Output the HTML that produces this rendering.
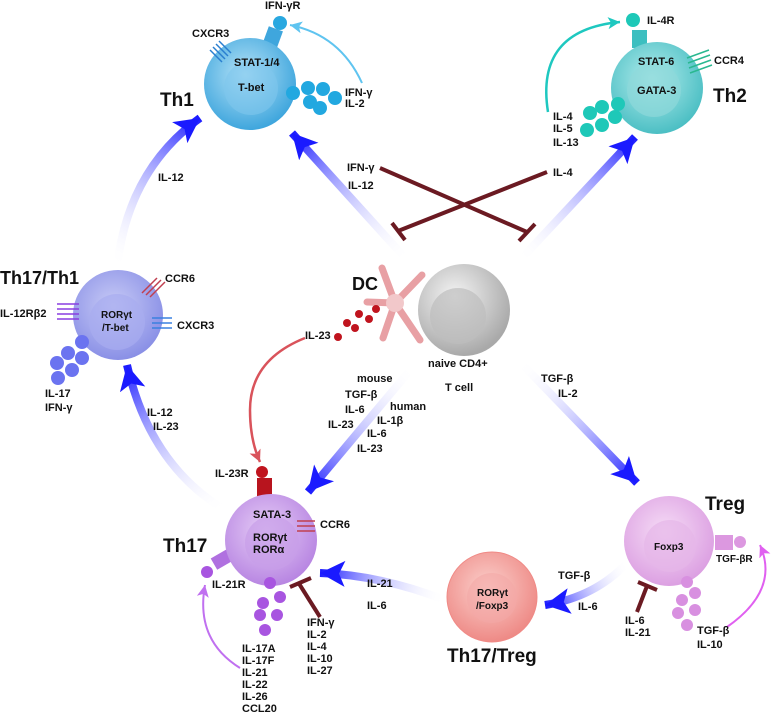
<!DOCTYPE html>
<html><head><meta charset="utf-8"><style>
html,body{margin:0;padding:0;background:#fff;}
svg{display:block;}
text{font-family:"Liberation Sans",sans-serif;font-weight:bold;fill:#111;}
.s{font-size:11px;}
.b{font-size:19px;}
</style></head><body>
<svg width="774" height="714" viewBox="0 0 774 714" xmlns="http://www.w3.org/2000/svg">
<defs>
<marker id="ah" markerUnits="userSpaceOnUse" markerWidth="30" markerHeight="30" refX="25" refY="13" orient="auto">
<path d="M0,0 L25,13 L0,26 L6,13 Z" fill="#1a1aff"/></marker>
<marker id="rh" markerUnits="userSpaceOnUse" markerWidth="16" markerHeight="16" refX="12" refY="6" orient="auto">
<path d="M0,0 L12,6 L0,12 L3,6 Z" fill="#d9535b"/></marker>
<marker id="ch" markerUnits="userSpaceOnUse" markerWidth="16" markerHeight="16" refX="12" refY="6" orient="auto">
<path d="M0,0 L12,6 L0,12 L3,6 Z" fill="#1ec8c0"/></marker>
<marker id="bh" markerUnits="userSpaceOnUse" markerWidth="16" markerHeight="16" refX="12" refY="6" orient="auto">
<path d="M0,0 L12,6 L0,12 L3,6 Z" fill="#5fc4f0"/></marker>
<marker id="ph" markerUnits="userSpaceOnUse" markerWidth="16" markerHeight="16" refX="12" refY="6" orient="auto">
<path d="M0,0 L12,6 L0,12 L3,6 Z" fill="#c070f0"/></marker>
<marker id="mh" markerUnits="userSpaceOnUse" markerWidth="16" markerHeight="16" refX="12" refY="6" orient="auto">
<path d="M0,0 L12,6 L0,12 L3,6 Z" fill="#e060f0"/></marker>
<linearGradient id="g1" gradientUnits="userSpaceOnUse" x1="407" y1="260" x2="292" y2="133"><stop offset="0" stop-color="#fff" stop-opacity="0"/><stop offset="1" stop-color="#1a1aff"/></linearGradient>
<linearGradient id="g2" gradientUnits="userSpaceOnUse" x1="520" y1="260" x2="635" y2="137"><stop offset="0" stop-color="#fff" stop-opacity="0"/><stop offset="1" stop-color="#1a1aff"/></linearGradient>
<linearGradient id="g3" gradientUnits="userSpaceOnUse" x1="117" y1="267" x2="200" y2="118"><stop offset="0" stop-color="#fff" stop-opacity="0"/><stop offset="1" stop-color="#1a1aff"/></linearGradient>
<linearGradient id="g4" gradientUnits="userSpaceOnUse" x1="225" y1="510" x2="127" y2="365"><stop offset="0" stop-color="#fff" stop-opacity="0"/><stop offset="1" stop-color="#1a1aff"/></linearGradient>
<linearGradient id="g5" gradientUnits="userSpaceOnUse" x1="412" y1="368" x2="308" y2="492"><stop offset="0" stop-color="#fff" stop-opacity="0"/><stop offset="1" stop-color="#1a1aff"/></linearGradient>
<linearGradient id="g6" gradientUnits="userSpaceOnUse" x1="520" y1="362" x2="637" y2="483"><stop offset="0" stop-color="#fff" stop-opacity="0"/><stop offset="1" stop-color="#1a1aff"/></linearGradient>
<linearGradient id="g7" gradientUnits="userSpaceOnUse" x1="445" y1="600" x2="320" y2="573"><stop offset="0" stop-color="#fff" stop-opacity="0"/><stop offset="1" stop-color="#1a1aff"/></linearGradient>
<linearGradient id="g8" gradientUnits="userSpaceOnUse" x1="627" y1="563" x2="545" y2="605"><stop offset="0" stop-color="#fff" stop-opacity="0"/><stop offset="1" stop-color="#1a1aff"/></linearGradient>
<radialGradient id="cTh1" cx="0.45" cy="0.4" r="0.6"><stop offset="0" stop-color="#b5e2f7"/><stop offset="1" stop-color="#3fa6dd"/></radialGradient>
<radialGradient id="cTh2" cx="0.45" cy="0.4" r="0.6"><stop offset="0" stop-color="#b2ecec"/><stop offset="1" stop-color="#4cbfc4"/></radialGradient>
<radialGradient id="cTh171" cx="0.45" cy="0.4" r="0.6"><stop offset="0" stop-color="#c8cbf6"/><stop offset="1" stop-color="#8a90e6"/></radialGradient>
<radialGradient id="cTh17" cx="0.45" cy="0.4" r="0.6"><stop offset="0" stop-color="#e6cdf6"/><stop offset="1" stop-color="#b886e2"/></radialGradient>
<radialGradient id="cTreg" cx="0.45" cy="0.4" r="0.6"><stop offset="0" stop-color="#f6dcf6"/><stop offset="1" stop-color="#dca0e2"/></radialGradient>
<radialGradient id="cTT" cx="0.45" cy="0.4" r="0.6"><stop offset="0" stop-color="#fbd0cc"/><stop offset="1" stop-color="#ee8a86"/></radialGradient>
<radialGradient id="cN" cx="0.4" cy="0.35" r="0.65"><stop offset="0" stop-color="#f4f4f4"/><stop offset="1" stop-color="#a9a9a9"/></radialGradient>
</defs>

<g fill="none" stroke-width="8">
<path d="M407,260 L292,133" stroke="url(#g1)" marker-end="url(#ah)"/>
<path d="M520,260 L635,137" stroke="url(#g2)" marker-end="url(#ah)"/>
<path d="M117,267 Q128,170 200,118" stroke="url(#g3)" marker-end="url(#ah)"/>
<path d="M225,510 Q150,465 127,365" stroke="url(#g4)" marker-end="url(#ah)"/>
<path d="M412,368 L308,492" stroke="url(#g5)" marker-end="url(#ah)"/>
<path d="M520,362 L637,483" stroke="url(#g6)" marker-end="url(#ah)"/>
<path d="M445,600 Q380,575 320,573" stroke="url(#g7)" marker-end="url(#ah)"/>
<path d="M627,563 Q595,597 545,605" stroke="url(#g8)" marker-end="url(#ah)"/>
</g>

<g stroke="#6b1a22" stroke-width="4" fill="none">
<line x1="380" y1="168" x2="527" y2="232"/><line x1="519" y1="241" x2="535" y2="224"/>
<line x1="547" y1="172" x2="398" y2="231"/><line x1="392" y1="223" x2="405" y2="240"/>
<line x1="298" y1="582" x2="320" y2="617"/><line x1="290" y1="587" x2="311" y2="578"/>
<line x1="647" y1="586" x2="637" y2="612"/><line x1="638" y1="582" x2="657" y2="590"/>
</g>

<path d="M305,338 Q250,360 250,410 Q250,440 260,462" fill="none" stroke="#d9535b" stroke-width="2.5" marker-end="url(#rh)"/>
<path d="M362,83 Q340,35 290,25" fill="none" stroke="#5fc4f0" stroke-width="2" marker-end="url(#bh)"/>
<path d="M548,112 Q535,30 620,22" fill="none" stroke="#1ec8c0" stroke-width="2.5" marker-end="url(#ch)"/>
<path d="M240,668 Q195,640 205,585" fill="none" stroke="#c070f0" stroke-width="2" marker-end="url(#ph)"/>
<path d="M727,627 Q780,590 760,545" fill="none" stroke="#e060f0" stroke-width="2" marker-end="url(#mh)"/>

<rect x="265" y="28" width="15" height="20" fill="#3fa6dd" transform="rotate(20 272 38)"/>
<circle cx="280" cy="23" r="7" fill="#29a8e0"/>
<circle cx="250" cy="84" r="46" fill="url(#cTh1)"/>
<circle cx="251" cy="88" r="27" fill="#7ec7ec" opacity="0.6"/>
<g stroke="#2a7fd0" stroke-width="1.5" fill="none"><path d="M210,50 l12,12 M213,47 l12,12 M216,44 l12,12 M219,41 l12,12"/></g>
<g fill="#22a8e0"><circle cx="293" cy="93" r="7"/><circle cx="308" cy="88" r="7"/><circle cx="323" cy="89" r="7"/><circle cx="310" cy="102" r="7"/><circle cx="335" cy="98" r="7"/><circle cx="320" cy="108" r="7"/></g>
<text class="s" x="265" y="9">IFN-γR</text>
<text class="s" x="192" y="37">CXCR3</text>
<text class="s" x="234" y="66">STAT-1/4</text>
<text class="s" x="238" y="91">T-bet</text>
<text class="s" x="345" y="96">IFN-γ</text>
<text class="s" x="345" y="107">IL-2</text>
<text class="b" x="160" y="106">Th1</text>

<rect x="632" y="30" width="15" height="18" fill="#3cbfc0"/>
<circle cx="633" cy="20" r="7" fill="#1ec8b8"/>
<circle cx="657" cy="88" r="46" fill="url(#cTh2)"/>
<circle cx="654" cy="90" r="27" fill="#8fd8da" opacity="0.7"/>
<g stroke="#2ab890" stroke-width="1.5" fill="none"><path d="M687,58 l22,-8 M688,63 l22,-8 M689,68 l22,-8 M690,73 l22,-8"/></g>
<g fill="#1ec8b8"><circle cx="590" cy="113" r="7"/><circle cx="602" cy="107" r="7"/><circle cx="618" cy="104" r="7"/><circle cx="615" cy="117" r="7"/><circle cx="587" cy="130" r="7"/><circle cx="602" cy="125" r="7"/></g>
<text class="s" x="647" y="24">IL-4R</text>
<text class="s" x="638" y="65">STAT-6</text>
<text class="s" x="637" y="94">GATA-3</text>
<text class="s" x="714" y="64">CCR4</text>
<text class="b" x="713" y="102">Th2</text>
<text class="s" x="553" y="120">IL-4</text>
<text class="s" x="553" y="132">IL-5</text>
<text class="s" x="553" y="146">IL-13</text>

<text class="s" x="347" y="171">IFN-γ</text>
<text class="s" x="348" y="189">IL-12</text>
<text class="s" x="553" y="176">IL-4</text>
<text class="s" x="158" y="181">IL-12</text>

<circle cx="118" cy="315" r="45" fill="url(#cTh171)"/>
<circle cx="117" cy="322" r="28" fill="#a8acf0" opacity="0.7"/>
<g stroke="#8a3ee0" stroke-width="1.5" fill="none"><path d="M57,304 h22 M57,309 h22 M57,314 h22 M57,319 h22"/></g>
<g stroke="#c04050" stroke-width="1.5" fill="none"><path d="M142,293 l15,-15 M146,295 l15,-15 M150,297 l15,-15"/></g>
<g stroke="#3a80e0" stroke-width="1.5" fill="none"><path d="M152,318 h20 M152,323 h20 M152,328 h20"/></g>
<g fill="#6b73f0"><circle cx="82" cy="342" r="7"/><circle cx="68" cy="353" r="7"/><circle cx="82" cy="358" r="7"/><circle cx="57" cy="363" r="7"/><circle cx="72" cy="370" r="7"/><circle cx="58" cy="378" r="7"/></g>
<text class="b" x="0" y="284" style="font-size:18px">Th17/Th1</text>
<text class="s" x="0" y="317">IL-12Rβ2</text>
<text class="s" x="165" y="282">CCR6</text>
<text class="s" x="177" y="329">CXCR3</text>
<text class="s" x="101" y="318" style="font-size:10px">RORγt</text>
<text class="s" x="102" y="331" style="font-size:10px">/T-bet</text>
<text class="s" x="45" y="397">IL-17</text>
<text class="s" x="45" y="411">IFN-γ</text>
<text class="s" x="147" y="416">IL-12</text>
<text class="s" x="153" y="430">IL-23</text>

<circle cx="464" cy="310" r="46" fill="url(#cN)"/>
<circle cx="458" cy="316" r="28" fill="#bdbdbd" opacity="0.7"/>
<g stroke="#e8a0a4" stroke-width="7" stroke-linecap="round" fill="none">
<path d="M395,303 L382,268 M395,303 L422,275 M395,303 L420,340 M395,303 L367,302 M395,303 L383,338"/>
</g>
<circle cx="395" cy="303" r="9" fill="#f2c8ca"/>
<g fill="#c0141e"><circle cx="338" cy="337" r="4"/><circle cx="347" cy="323" r="4"/><circle cx="355" cy="328" r="4"/><circle cx="359" cy="314" r="4"/><circle cx="369" cy="319" r="4"/><circle cx="376" cy="309" r="4"/></g>
<text class="b" x="352" y="290" style="font-size:18px">DC</text>
<text class="s" x="305" y="339">IL-23</text>
<text class="s" x="428" y="367">naive CD4+</text>
<text class="s" x="445" y="391">T cell</text>
<text class="s" x="357" y="382">mouse</text>
<text class="s" x="345" y="398">TGF-β</text>
<text class="s" x="345" y="413">IL-6</text>
<text class="s" x="328" y="428">IL-23</text>
<text class="s" x="390" y="410">human</text>
<text class="s" x="377" y="424">IL-1β</text>
<text class="s" x="367" y="437">IL-6</text>
<text class="s" x="357" y="452">IL-23</text>
<text class="s" x="541" y="382">TGF-β</text>
<text class="s" x="558" y="397">IL-2</text>

<rect x="257" y="478" width="15" height="22" fill="#b8141e"/>
<circle cx="262" cy="472" r="6" fill="#c0141e"/>
<rect x="213" y="553" width="18" height="13" fill="#b070e0" transform="rotate(-30 222 560)"/>
<circle cx="207" cy="572" r="6" fill="#a855e0"/>
<circle cx="271" cy="540" r="46" fill="url(#cTh17)"/>
<circle cx="272" cy="543" r="27" fill="#c89ee8" opacity="0.7"/>
<g stroke="#c04050" stroke-width="1.5" fill="none"><path d="M297,521 h18 M297,526 h18 M297,531 h18"/></g>
<g fill="#a855e0"><circle cx="270" cy="583" r="6"/><circle cx="280" cy="597" r="6"/><circle cx="263" cy="603" r="6"/><circle cx="260" cy="615" r="6"/><circle cx="277" cy="615" r="6"/><circle cx="265" cy="630" r="6"/></g>
<text class="s" x="215" y="477">IL-23R</text>
<text class="s" x="253" y="518">SATA-3</text>
<text class="s" x="320" y="528">CCR6</text>
<text class="s" x="253" y="541">RORγt</text>
<text class="s" x="253" y="553">RORα</text>
<text class="s" x="212" y="588">IL-21R</text>
<text class="b" x="163" y="552">Th17</text>
<text class="s" x="242" y="652">IL-17A</text><text class="s" x="242" y="664">IL-17F</text><text class="s" x="242" y="676">IL-21</text><text class="s" x="242" y="688">IL-22</text><text class="s" x="242" y="700">IL-26</text><text class="s" x="242" y="712">CCL20</text>
<text class="s" x="307" y="626">IFN-γ</text><text class="s" x="307" y="638">IL-2</text><text class="s" x="307" y="650">IL-4</text><text class="s" x="307" y="662">IL-10</text><text class="s" x="307" y="674">IL-27</text>
<text class="s" x="367" y="587">IL-21</text>
<text class="s" x="367" y="609">IL-6</text>

<circle cx="492" cy="597" r="45" fill="url(#cTT)" stroke="#f08a86" stroke-width="1"/>
<circle cx="492" cy="598" r="25" fill="#f4a8a6" opacity="0.6"/>
<text class="s" x="477" y="596" style="font-size:10px">RORγt</text>
<text class="s" x="476" y="609" style="font-size:10px">/Foxp3</text>
<text class="b" x="447" y="662">Th17/Treg</text>

<rect x="715" y="535" width="18" height="15" fill="#dc98e0"/>
<circle cx="740" cy="542" r="6" fill="#dc98e0"/>
<circle cx="669" cy="541" r="45" fill="url(#cTreg)"/>
<circle cx="670" cy="546" r="26" fill="#e6b6e8" opacity="0.7"/>
<g fill="#d890e0"><circle cx="687" cy="582" r="6"/><circle cx="695" cy="593" r="6"/><circle cx="682" cy="600" r="6"/><circle cx="695" cy="610" r="6"/><circle cx="678" cy="613" r="6"/><circle cx="687" cy="625" r="6"/></g>
<text class="b" x="705" y="510">Treg</text>
<text class="s" x="654" y="550" style="font-size:10px">Foxp3</text>
<text class="s" x="716" y="562" style="font-size:10px">TGF-βR</text>
<text class="s" x="558" y="579">TGF-β</text>
<text class="s" x="578" y="610">IL-6</text>
<text class="s" x="625" y="624">IL-6</text>
<text class="s" x="625" y="636">IL-21</text>
<text class="s" x="697" y="634">TGF-β</text>
<text class="s" x="697" y="648">IL-10</text>
</svg>
</body></html>
